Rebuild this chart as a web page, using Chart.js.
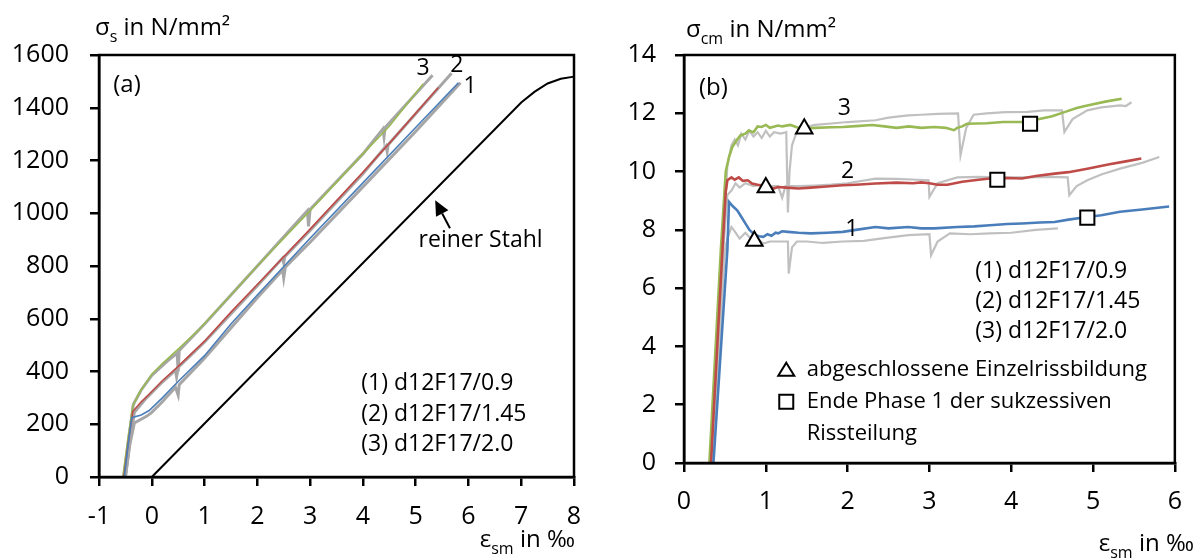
<!DOCTYPE html>
<html>
<head>
<meta charset="utf-8">
<script src="https://cdn.jsdelivr.net/npm/chart.js@4/dist/chart.umd.min.js"></script>
<style>
  html, body { margin: 0; padding: 0; background: #fff; }
  #wrap { position: relative; width: 1197px; height: 560px; }
  #boxA { position: absolute; left: 0; top: 0; width: 600px; height: 560px; }
  #boxB { position: absolute; left: 600px; top: 0; width: 597px; height: 560px; }
</style>
</head>
<body>
<div id="wrap">
  <div id="boxA"><canvas id="chartA"></canvas></div>
  <div id="boxB"><canvas id="chartB"></canvas></div>
</div>
<script>
// ---- Daten (a): Stahlspannung sigma_s über eps_sm, Punkte [eps, sigma]
const xTicksA = [-1, 0, 1, 2, 3, 4, 5, 6, 7, 8];
const yTicksA = [0, 200, 400, 600, 800, 1000, 1200, 1400, 1600];

const steelA1 = [[-0.52,0],[-0.45,120],[-0.38,225],[-0.2,235],[-0.05,252],[0.2,300],[0.5,362],[1.0,460],[1.5,580],[2,690],[3,905],[4,1115],[5,1325],[5.81,1495]];
const steelA2 = [[-0.53,0],[-0.44,140],[-0.36,248],[-0.2,285],[-0.06,312],[0.2,365],[0.47,414],[1.0,515],[1.5,625],[2,730],[3,940],[4,1155],[4.5,1265],[5.43,1477]];
const steelA3 = [[-0.55,0],[-0.45,150],[-0.36,270],[-0.22,325],[0,390],[0.2,430],[0.5,485],[0.9,560],[1.5,690],[2,800],[3,1010],[4,1225],[4.5,1330],[5.14,1490]];
const refA1 = [[-0.5,0],[-0.42,120],[-0.33,205],[-0.1,230],[0,245],[0.2,285],[0.45,340],[0.5,310],[0.52,350],[1,450],[2,680],[2.48,785],[2.5,755],[2.53,795],[3,890],[4,1100],[5,1310],[5.85,1495]];
const refA2 = [[-0.5,0],[-0.41,140],[-0.33,245],[-0.1,300],[0.2,360],[0.45,405],[0.47,380],[0.5,415],[1,512],[2,725],[2.48,830],[2.5,812],[2.52,835],[3,935],[4,1150],[4.44,1255],[4.46,1234],[4.48,1260],[5.68,1531]];
const refA3 = [[-0.53,0],[-0.43,150],[-0.35,275],[-0.2,330],[0,385],[0.3,440],[0.48,470],[0.5,400],[0.52,480],[1,580],[2,800],[2.95,1010],[2.97,950],[3.0,1015],[4,1225],[4.38,1320],[4.4,1290],[4.42,1325],[5.32,1523]];
const pureSteel = [[0,0],[7.0,1420],[7.25,1460],[7.5,1492],[7.75,1510],[8,1518]];

// ---- Daten (b): Betonspannung sigma_cm über eps_sm
const xTicksB = [0, 1, 2, 3, 4, 5, 6];
const yTicksB = [0, 2, 4, 6, 8, 10, 12, 14];

const concB1 = [[0.36,0],[0.53,7.3],[0.55,8.96],[0.6,8.8],[0.65,8.67],[0.7,8.45],[0.75,8.22],[0.8,8.0],[0.87,7.82],[0.92,7.78],[0.97,7.76],[1.02,7.85],[1.07,7.8],[1.12,7.9],[1.15,7.88],[1.2,7.95],[1.27,7.93],[1.4,7.9],[1.55,7.88],[1.75,7.9],[1.94,7.93],[2.1,8.0],[2.34,8.1],[2.5,8.05],[2.74,8.1],[2.9,8.05],[3.06,8.05],[3.34,8.1],[3.55,8.12],[3.74,8.16],[3.95,8.2],[4.13,8.22],[4.35,8.25],[4.53,8.27],[4.7,8.35],[4.93,8.44],[5.1,8.5],[5.33,8.62],[5.6,8.7],[5.93,8.8]];
const concB2 = [[0.33,0],[0.47,7.3],[0.51,9.3],[0.53,9.7],[0.58,9.8],[0.62,9.72],[0.67,9.8],[0.72,9.68],[0.78,9.7],[0.83,9.59],[0.9,9.55],[1.0,9.5],[1.1,9.42],[1.15,9.47],[1.25,9.45],[1.4,9.42],[1.55,9.45],[1.7,9.48],[1.94,9.53],[2.1,9.55],[2.34,9.59],[2.6,9.62],[2.8,9.6],[2.9,9.63],[3.0,9.6],[3.1,9.55],[3.22,9.55],[3.4,9.65],[3.6,9.72],[3.74,9.76],[3.95,9.78],[4.13,9.76],[4.3,9.85],[4.53,9.93],[4.7,9.98],[4.93,10.1],[5.2,10.25],[5.4,10.35],[5.59,10.45]];
const concB3 = [[0.31,0],[0.45,7.3],[0.51,10.0],[0.55,10.5],[0.59,10.84],[0.65,11.1],[0.69,11.24],[0.75,11.3],[0.79,11.41],[0.85,11.35],[0.9,11.55],[0.95,11.53],[1.0,11.6],[1.05,11.5],[1.15,11.58],[1.2,11.55],[1.3,11.6],[1.43,11.47],[1.6,11.5],[1.8,11.52],[1.94,11.53],[2.1,11.56],[2.3,11.6],[2.45,11.55],[2.6,11.5],[2.75,11.55],[2.9,11.5],[3.06,11.53],[3.2,11.5],[3.3,11.42],[3.34,11.5],[3.4,11.55],[3.46,11.64],[3.7,11.66],[3.9,11.7],[4.13,11.7],[4.3,11.78],[4.5,11.9],[4.65,12.04],[4.8,12.18],[4.93,12.27],[5.15,12.4],[5.35,12.5]];
const refB1 = [[0.35,0],[0.5,7.3],[0.53,7.7],[0.58,8.1],[0.62,7.95],[0.68,7.7],[0.75,7.9],[0.85,7.6],[0.9,7.7],[0.97,7.53],[1.05,7.6],[1.15,7.6],[1.27,7.6],[1.28,6.5],[1.32,7.4],[1.38,7.6],[1.5,7.6],[1.7,7.55],[1.94,7.6],[2.2,7.62],[2.4,7.7],[2.74,7.82],[3.0,7.85],[3.02,7.13],[3.1,7.6],[3.25,7.88],[3.5,7.85],[3.74,7.88],[4.0,7.9],[4.3,8.0],[4.57,8.05]];
const refB2 = [[0.34,0],[0.48,7.3],[0.53,9.2],[0.58,9.35],[0.63,9.6],[0.68,9.45],[0.75,9.6],[0.85,9.5],[0.95,9.55],[1.05,9.5],[1.15,9.5],[1.2,9.1],[1.24,9.5],[1.4,9.5],[1.6,9.52],[1.8,9.55],[2.0,9.6],[2.34,9.76],[2.6,9.75],[2.85,9.72],[2.99,9.7],[3.0,9.13],[3.1,9.6],[3.34,9.8],[3.6,9.82],[3.9,9.8],[4.2,9.8],[4.5,9.82],[4.69,9.8],[4.71,9.19],[4.8,9.5],[4.93,9.7],[5.1,9.9],[5.33,10.1],[5.6,10.3],[5.81,10.5]];
const refB3 = [[0.33,0],[0.47,7.3],[0.53,10.2],[0.58,10.9],[0.62,11.1],[0.66,10.9],[0.7,11.3],[0.75,11.1],[0.8,11.4],[0.85,11.2],[0.9,11.35],[0.95,11.15],[1.0,11.4],[1.05,11.2],[1.1,11.35],[1.18,11.3],[1.25,11.35],[1.27,8.6],[1.29,10.0],[1.32,10.9],[1.37,11.3],[1.45,11.5],[1.6,11.6],[1.8,11.65],[2.0,11.7],[2.34,11.76],[2.5,11.85],[2.74,11.93],[2.9,11.95],[3.1,11.98],[3.35,12.0],[3.38,10.56],[3.45,11.5],[3.54,11.95],[3.7,12.0],[3.93,12.04],[4.2,12.05],[4.4,12.1],[4.62,12.1],[4.65,11.36],[4.75,11.8],[4.93,12.1],[5.1,12.2],[5.33,12.27],[5.4,12.25],[5.47,12.38]];
const crackEnd = [[0.86,7.62],[1.0,9.45],[1.47,11.47]];      // abgeschlossene Einzelrissbildung
const phase1End = [[4.93,8.42],[3.83,9.72],[4.23,11.64]];    // Ende Phase 1

const BLUE = "#4a7ebb", RED = "#be4b48", GREEN = "#98b954";
const FONT = "'Open Sans', sans-serif";

const pts = (arr) => arr.map(([x, y]) => ({ x, y }));

function line(data, color, width, order) {
  return { data: pts(data), showLine: true, borderColor: color, borderWidth: width,
    pointRadius: 0, pointHoverRadius: 0, tension: 0, order, clip: 4 };
}

// Text mit Tiefstellung zeichnen: parts = [["σ"],["s",1],[" in N/mm²"]]
function richText(ctx, parts, x, y, size, align) {
  const subSize = Math.round(size * 0.66);
  let w = 0;
  for (const [t, sub] of parts) {
    ctx.font = `${sub ? subSize : size}px ${FONT}`;
    w += ctx.measureText(t).width;
  }
  let cx = align === "right" ? x - w : align === "center" ? x - w / 2 : x;
  ctx.textBaseline = "alphabetic";
  ctx.textAlign = "left";
  for (const [t, sub] of parts) {
    ctx.font = `${sub ? subSize : size}px ${FONT}`;
    ctx.fillText(t, cx, sub ? y + size * 0.28 : y);
    cx += ctx.measureText(t).width;
  }
}

const labelsPlugin = {
  id: "labels",
  afterDraw(chart, args, opts) {
    const { ctx, chartArea, scales } = chart;
    ctx.save();
    // Rahmen um Diagrammfläche
    ctx.strokeStyle = "#000";
    ctx.lineWidth = 2.5;
    ctx.strokeRect(chartArea.left, chartArea.top, chartArea.right - chartArea.left, chartArea.bottom - chartArea.top);
    ctx.fillStyle = "#000";
    for (const it of opts.items || []) {
      const px = it.px !== undefined ? it.px : scales.x.getPixelForValue(it.x);
      const py = it.py !== undefined ? it.py : scales.y.getPixelForValue(it.y);
      if (it.parts) {
        richText(ctx, it.parts, px, py, it.size || 23, it.align || "left");
      } else if (it.marker) {
        ctx.lineWidth = 2;
        ctx.strokeStyle = "#000";
        ctx.fillStyle = "#fff";
        ctx.beginPath();
        if (it.marker === "tri") {
          ctx.moveTo(px, py - 7); ctx.lineTo(px + 8, py + 6); ctx.lineTo(px - 8, py + 6); ctx.closePath();
        } else {
          ctx.rect(px - 7, py - 7, 14, 14);
        }
        ctx.fill(); ctx.stroke();
        ctx.fillStyle = "#000";
      } else {
        ctx.font = `${it.size || 23}px ${FONT}`;
        ctx.textAlign = it.align || "left";
        ctx.textBaseline = "middle";
        ctx.fillText(it.text, px, py);
      }
    }
    // Pfeil "reiner Stahl"
    if (opts.arrow) {
      const a = opts.arrow;
      const x1 = scales.x.getPixelForValue(a.from[0]), y1 = scales.y.getPixelForValue(a.from[1]);
      const x2 = scales.x.getPixelForValue(a.to[0]), y2 = scales.y.getPixelForValue(a.to[1]);
      const ang = Math.atan2(y2 - y1, x2 - x1);
      const hl = 15, hw = 7;
      const bx = x2 - Math.cos(ang) * hl, by = y2 - Math.sin(ang) * hl;
      ctx.strokeStyle = "#000"; ctx.lineWidth = 2;
      ctx.beginPath(); ctx.moveTo(x1, y1); ctx.lineTo(bx, by); ctx.stroke();
      ctx.beginPath();
      ctx.moveTo(x2, y2);
      ctx.lineTo(bx + Math.sin(ang) * hw, by - Math.cos(ang) * hw);
      ctx.lineTo(bx - Math.sin(ang) * hw, by + Math.cos(ang) * hw);
      ctx.closePath(); ctx.fill();
    }
    ctx.restore();
  },
};

function axes({ xMin, xMax, yMin, yMax, yStep, yWidth, xHeight, xPad, yPad }) {
  const grid = { drawOnChartArea: false, drawTicks: true, tickLength: 9, color: "#000", lineWidth: 2.5 };
  const border = { display: true, color: "#000", width: 2.5 };
  const font = { family: FONT, size: 25 };
  const plain = (v) => String(v);
  return {
    x: { type: "linear", min: xMin, max: xMax, grid, border,
      ticks: { stepSize: 1, color: "#000", font, padding: xPad, maxRotation: 0, autoSkip: false, callback: plain },
      afterFit: (s) => { s.height = xHeight; } },
    y: { type: "linear", min: yMin, max: yMax, grid, border,
      ticks: { stepSize: yStep, color: "#000", font, padding: yPad, autoSkip: false, callback: plain },
      afterFit: (s) => { s.width = yWidth; } },
  };
}

const common = {
  responsive: true, maintainAspectRatio: false, animation: false,
  plugins: { legend: { display: false }, tooltip: { enabled: false } },
};

new Chart(document.getElementById("chartA"), {
  type: "scatter",
  data: {
    datasets: [
      line(refA1, "#a6a6a6", 3, 3), line(refA2, "#a6a6a6", 3, 3), line(refA3, "#a6a6a6", 3, 3),
      line(steelA1, BLUE, 1.6, 2), line(steelA2, RED, 1.6, 2), line(steelA3, GREEN, 1.6, 2),
      line(pureSteel, "#000", 2, 1),
    ],
  },
  options: {
    ...common,
    layout: { padding: { top: 55, right: 26, left: 0, bottom: 0 } },
    scales: axes({ xMin: xTicksA[0], xMax: xTicksA[xTicksA.length - 1], yMin: yTicksA[0], yMax: yTicksA[yTicksA.length - 1],
      yStep: 200, yWidth: 99, xHeight: 83, xPad: 16, yPad: 21 }),
    plugins: {
      ...common.plugins,
      labels: {
        items: [
          { px: 95, py: 35, parts: [["σ"], ["s", 1], [" in N/mm²"]], size: 24 },
          { px: 575, py: 547, parts: [["ε"], ["sm", 1], [" in ‰"]], size: 24, align: "right" },
          { x: -0.47, y: 1484, text: "(a)", align: "center", size: 24 },
          { x: 5.14, y: 1550, text: "3", align: "center" },
          { x: 5.78, y: 1562, text: "2", align: "center" },
          { x: 6.03, y: 1482, text: "1", align: "center" },
          { x: 6.23, y: 898, text: "reiner Stahl", align: "center" },
          { x: 3.97, y: 353, text: "(1) d12F17/0.9" },
          { x: 3.97, y: 236, text: "(2) d12F17/1.45" },
          { x: 3.97, y: 122, text: "(3) d12F17/2.0" },
        ],
        arrow: { from: [5.65, 943], to: [5.37, 1049] },
      },
    },
  },
  plugins: [labelsPlugin],
});

new Chart(document.getElementById("chartB"), {
  type: "scatter",
  data: {
    datasets: [
      line(refB1, "#c0c0c0", 2.2, 3), line(refB2, "#c0c0c0", 2.2, 3), line(refB3, "#c0c0c0", 2.2, 3),
      line(concB1, BLUE, 2.6, 2), line(concB2, RED, 2.6, 2), line(concB3, GREEN, 2.6, 2),
      { data: pts(crackEnd), pointStyle: "triangle", pointRadius: 9.5, borderColor: "#000",
        backgroundColor: "#fff", borderWidth: 2, order: 0 },
      { data: pts(phase1End), pointStyle: "rect", pointRadius: 10, borderColor: "#000",
        backgroundColor: "#fff", borderWidth: 2, order: 0 },
    ],
  },
  options: {
    ...common,
    layout: { padding: { top: 55, right: 11, left: 0, bottom: 0 } },
    scales: axes({ xMin: xTicksB[0], xMax: xTicksB[xTicksB.length - 1], yMin: yTicksB[0], yMax: yTicksB[yTicksB.length - 1],
      yStep: 2, yWidth: 84, xHeight: 97, xPad: 15, yPad: 19 }),
    plugins: {
      ...common.plugins,
      labels: {
        items: [
          { px: 86, py: 37, parts: [["σ"], ["cm", 1], [" in N/mm²"]], size: 24 },
          { px: 594, py: 551, parts: [["ε"], ["sm", 1], [" in ‰"]], size: 24, align: "right" },
          { x: 0.36, y: 12.87, text: "(b)", align: "center", size: 24 },
          { x: 1.96, y: 12.17, text: "3", align: "center" },
          { x: 2.0, y: 10.02, text: "2", align: "center" },
          { x: 2.05, y: 8.02, text: "1", align: "center" },
          { x: 3.56, y: 6.58, text: "(1) d12F17/0.9" },
          { x: 3.56, y: 5.53, text: "(2) d12F17/1.45" },
          { x: 3.56, y: 4.5, text: "(3) d12F17/2.0" },
          { x: 1.25, y: 3.2, marker: "tri" },
          { x: 1.5, y: 3.2, text: "abgeschlossene Einzelrissbildung", size: 22 },
          { x: 1.25, y: 2.1, marker: "rect" },
          { x: 1.5, y: 2.1, text: "Ende Phase 1 der sukzessiven", size: 22 },
          { x: 1.5, y: 1.0, text: "Rissteilung", size: 22 },
        ],
      },
    },
  },
  plugins: [labelsPlugin],
});
</script>
</body>
</html>
